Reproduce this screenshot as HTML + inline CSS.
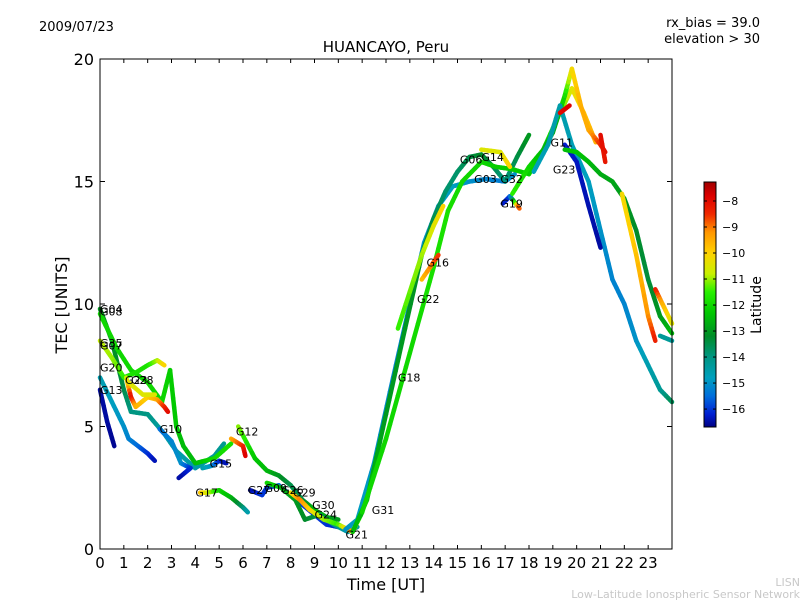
<!DOCTYPE html>
<html><head><meta charset="utf-8"><style>
body{margin:0;background:#fff;}
svg text{font-family:"DejaVu Sans","Liberation Sans",sans-serif;}
</style></head><body>
<svg id="chart" width="800" height="600" viewBox="0 0 800 600" xmlns="http://www.w3.org/2000/svg">
<rect width="800" height="600" fill="#fff"/>
<text x="39" y="31" font-size="13">2009/07/23</text>
<text x="760" y="27" font-size="13" text-anchor="end">rx_bias = 39.0</text>
<text x="760" y="43" font-size="13" text-anchor="end">elevation &gt; 30</text>
<text x="386" y="52" font-size="15" text-anchor="middle">HUANCAYO, Peru</text>
<text x="67" y="305" font-size="16" text-anchor="middle" transform="rotate(-90 67 305)">TEC [UNITS]</text>
<text x="386" y="590" font-size="16" text-anchor="middle">Time [UT]</text>
<text x="800" y="586" font-size="11" fill="#c8c8c8" text-anchor="end">LISN</text>
<text x="800" y="598" font-size="11" fill="#c8c8c8" text-anchor="end">Low-Latitude Ionospheric Sensor Network</text>
<g id="marks"></g>
<g id="axes"></g>
<g id="cbar"></g>
</svg>
<script>
const xTicks=[0,1,2,3,4,5,6,7,8,9,10,11,12,13,14,15,16,17,18,19,20,21,22,23];
const yTicks=[0,5,10,15,20];
const cbTicks=[-8,-9,-10,-11,-12,-13,-14,-15,-16];
const trackTimes=[
[0,0.5,1,1.3,2,2.7,3.2,4,4.8,5.2],
[0,0.7,1.3,2,2.6,2.94,3.2,3.5,4,4.8,5.5],
[0,0.5,1,1.5,2,2.4,2.7],
[1.1,1.3,1.5,2,2.4,2.7,2.85],
[1.2,1.8,2.3],
[0,0.5,1,1.2,1.6,2,2.3],
[0,0.3,0.6],
[2.5,3,3.4,3.8,3.3],
[5.5,6,6.1],
[5.8,6.5,7,7.5,8,8.5,9,9.5,10],
[4.3,4.7,5,5.3],
[4.2,4.5,5,5.5,6,6.2],
[6.3,6.8,7,7.5,8,8.5,9,9.5,10,10.5],
[7,7.6,8.2,8.6,9.2,9.8,10.4,10.8],
[8,8.4,8.8,9.4,10,10.6,11],
[10.3,10.8,11.5,12.3,13,13.6,14.2,14.8,15.5,16.2,17,17.4],
[10.6,11.2,12,12.8,13.5,14,14.5,15,15.5,16,16.5,17,17.5,18],
[11,12,13,14,14.6,15.2,16,16.6,17.3,18,18.6,19.2,19.8,20.3,20.8],
[12.5,13.5,14,14.4],
[13.5,14.2],
[16.9,17.2,17.6],
[16,16.8,17.2],
[17.3,18,18.6,19,19.5,19.8,20.2,20.5,21,21.2],
[18.2,18.8,19.3,19.8,20.5,21,21.5,22,22.5,23,23.5,24],
[19.5,20,20.5,21],
[19.5,20,20.5,21,21.5,22,22.5,23,23.5,24],
[21.9,22.5,23,23.3],
[19.3,19.7],
[21,21.2],
[23.3,23.6,24],
[23.5,24]
];
const trackTec=[
[9.8,8.5,6.5,5.6,5.5,4.7,4.0,3.3,3.8,4.3],
[9.6,8.2,7.3,6.8,6.0,7.3,5.0,4.2,3.5,3.7,4.3],
[8.5,7.8,7.0,7.2,7.5,7.7,7.5],
[7.0,6.2,5.8,6.2,6.1,5.8,5.6],
[6.8,6.3,6.3],
[7.0,6.0,5.0,4.5,4.2,3.9,3.6],
[6.5,5.2,4.2],
[4.9,4.4,3.5,3.3,2.9],
[4.5,4.2,3.8],
[5.0,3.7,3.2,3.0,2.6,2.0,1.6,1.3,1.2],
[3.3,3.4,3.6,3.5],
[2.3,2.3,2.4,2.1,1.7,1.5],
[2.4,2.2,2.5,2.6,2.2,1.8,1.4,1.0,0.9,0.8],
[2.7,2.5,2.0,1.2,1.4,1.0,0.7,0.9],
[2.3,2.0,1.6,1.2,1.0,0.7,1.5],
[0.8,1.2,3.5,7.0,10.0,12.5,14.0,14.8,15.0,15.1,15.0,15.3],
[0.7,2.0,5.5,9.0,12.0,13.5,14.6,15.4,16.0,16.1,15.6,15.0,16.0,16.9],
[1.5,4.5,8.0,11.5,13.8,15.0,15.8,15.6,15.5,15.3,16.3,17.6,18.8,17.8,16.6],
[9.0,12.0,13.2,14.0],
[11.0,12.0],
[14.1,14.4,13.9],
[16.3,16.2,15.6],
[14.5,15.6,16.3,17.0,18.5,19.6,18.0,17.1,16.5,16.2],
[15.4,16.5,18.1,16.5,15.0,13.0,11.0,10.0,8.5,7.5,6.5,6.0],
[16.5,15.8,14.0,12.3],
[16.3,16.2,15.8,15.3,15.0,14.3,13.0,11.0,9.5,8.8],
[14.5,12.0,9.5,8.5],
[17.8,18.1],
[16.9,15.8],
[10.6,10.0,9.2],
[8.7,8.5]
];
const trackLat=[
[-13,-13,-13.5,-14,-14,-14.5,-14.5,-14.5,-14.3,-14.2],
[-12,-12,-12,-12,-12,-12.2,-12.3,-12.5,-12.5,-12,-11.8],
[-10.8,-11,-11.5,-11.8,-11.8,-11,-10],
[-11,-8,-9.5,-10,-9.5,-8.5,-8],
[-10.5,-10.5,-10.5],
[-14.6,-14.8,-15,-15.2,-15.5,-16,-16.4],
[-16.5,-16.5,-16.6],
[-15.5,-15.2,-15,-16,-16.5],
[-9.5,-8.5,-7.8],
[-11,-12.3,-12.5,-13,-13.5,-13.5,-12.5,-12.7,-13],
[-14.5,-15,-16,-16.4],
[-9.8,-10.5,-12,-12.5,-13.8,-14.6],
[-16.5,-16,-16,-15.5,-15.8,-16,-16,-16,-16.2,-16.4],
[-12,-12.5,-13,-13.2,-13.5,-14,-14.5,-14.3],
[-10.5,-9,-10,-11,-11.5,-9,-13],
[-15,-14.8,-15,-15.2,-15.2,-15,-15,-14.8,-15,-15.2,-15.3,-15],
[-12.5,-12.5,-13,-13,-13.2,-13.5,-13.8,-13.8,-13.5,-13.2,-13.5,-14,-13.5,-13],
[-12,-12,-12,-11.8,-11.8,-12,-12,-12.2,-12.2,-12.2,-12,-11.8,-10.5,-9.8,-9.5],
[-11.5,-11,-10.5,-10],
[-9.8,-8.5],
[-16.3,-16,-8.2],
[-10.5,-10.5,-10],
[-11.5,-12,-12.5,-12.8,-12,-10.2,-9.5,-9.5,-8.5,-8],
[-14.8,-14.6,-14.5,-14.7,-14.8,-15,-15.2,-15.2,-15,-14.6,-14.3,-13.6],
[-16.2,-16.3,-16.4,-16.5],
[-12.5,-12.3,-12.5,-12.7,-12.8,-13,-13.2,-13.4,-13,-12.5],
[-10.2,-9.8,-9.2,-8.3],
[-8,-7.8],
[-8,-8.2],
[-8.2,-9.5,-10.5],
[-14.3,-14.3]
];
const labelNames=["G04","G08","G35","G07","G20","G13","G23","G28","G10","G12","G15","G17","G27","G09","G26","G29","G30","G24","G21","G31","G18","G22","G16","G06","G14","G03","G32","G19","G11","G23"];
const labelTimes=[0,0,0,0,0,0,1.05,1.3,2.5,5.7,4.6,4.0,6.2,6.9,7.6,8.1,8.9,9.0,10.3,11.4,12.5,13.3,13.7,15.1,16.0,15.7,16.8,16.8,18.9,19.0];
const labelTecs=[9.8,9.7,8.4,8.3,7.4,6.5,6.9,6.9,4.9,4.8,3.5,2.3,2.4,2.5,2.4,2.3,1.8,1.4,0.6,1.6,7.0,10.2,11.7,15.9,16.0,15.1,15.1,14.1,16.6,15.5];

const X0=100,X1=672,Y0=549,Y1=59;
const xs=t=>X0+(X1-X0)*t/24;
const ys=v=>Y0-(Y0-Y1)*v/20;
const LATMIN=-16.69,LATMAX=-7.27;
const cmapLat=[-16.69,-16.2,-15.5,-14.8,-14,-13.2,-12.3,-11.5,-10.8,-10,-9.2,-8.5,-7.8,-7.27];
const cmapRGB=[[0,0,130],[0,30,210],[0,110,220],[0,160,190],[0,150,130],[0,140,40],[0,200,0],[40,240,0],[200,240,0],[255,210,0],[255,150,0],[240,40,0],[220,0,0],[160,0,0]];
function latColor(l){
  if(l<=cmapLat[0])return `rgb(${cmapRGB[0]})`;
  for(let i=0;i<cmapLat.length-1;i++){
    if(l<=cmapLat[i+1]){const f=(l-cmapLat[i])/(cmapLat[i+1]-cmapLat[i]);
      const c=cmapRGB[i].map((v,k)=>Math.round(v+(cmapRGB[i+1][k]-v)*f));return `rgb(${c})`;}
  }
  return `rgb(${cmapRGB[cmapRGB.length-1]})`;
}
const NS="http://www.w3.org/2000/svg";
function mk(tag,attrs,parent){const e=document.createElementNS(NS,tag);for(const k in attrs)e.setAttribute(k,attrs[k]);parent.appendChild(e);return e;}
const marks=document.getElementById('marks');
trackTimes.forEach((tt,i)=>{
  const g=mk('g',{},marks);
  
  
  for(let j=0;j<tt.length-1;j++){
    const n=6;
    for(let k=0;k<n;k++){
      const a=k/n,b=(k+1)/n;
      const t1=tt[j]+(tt[j+1]-tt[j])*a,t2=tt[j]+(tt[j+1]-tt[j])*b;
      const v1=trackTec[i][j]+(trackTec[i][j+1]-trackTec[i][j])*a,v2=trackTec[i][j]+(trackTec[i][j+1]-trackTec[i][j])*b;
      const l=trackLat[i][j]+(trackLat[i][j+1]-trackLat[i][j])*(a+b)/2;
      const s=mk('line',{x1:xs(t1),y1:ys(v1),x2:xs(t2),y2:ys(v2),stroke:latColor(l),'stroke-width':4.5,'stroke-linecap':'round'},g);
      
      
    }
  }
});
labelNames.forEach((n,i)=>{
  const t=mk('text',{x:xs(labelTimes[i]),y:ys(labelTecs[i])+4,'font-size':11},marks);
  
  
  t.textContent=n;
});
const axes=document.getElementById('axes');
const fr=mk('rect',{x:X0,y:Y1,width:X1-X0,height:Y0-Y1,fill:'none',stroke:'#000','stroke-width':1},axes);


xTicks.forEach(v=>{
  const x=xs(v);
  mk('line',{x1:x,y1:Y0,x2:x,y2:Y0-4,stroke:'#000'},axes);
  mk('line',{x1:x,y1:Y1,x2:x,y2:Y1+4,stroke:'#000'},axes);
  const t=mk('text',{x:x,y:Y0+19,'font-size':15,'text-anchor':'middle'},axes);
  
  
  t.textContent=v;
});
yTicks.forEach(v=>{
  const y=ys(v);
  mk('line',{x1:X0,y1:y,x2:X0+5,y2:y,stroke:'#000'},axes);
  mk('line',{x1:X1,y1:y,x2:X1-5,y2:y,stroke:'#000'},axes);
  const t=mk('text',{x:X0-6,y:y+6,'font-size':16,'text-anchor':'end'},axes);
  
  
  t.textContent=v;
});
const cb=document.getElementById('cbar');
const CX=704,CW=12,CT=182,CB=427;
const defs=mk('defs',{},cb);
const lg=mk('linearGradient',{id:'latg',x1:0,y1:1,x2:0,y2:0},defs);
cmapLat.forEach((l,i)=>{mk('stop',{offset:(l-LATMIN)/(LATMAX-LATMIN),'stop-color':`rgb(${cmapRGB[i]})`},lg);});
const cr=mk('rect',{x:CX,y:CT,width:CW,height:CB-CT,fill:'url(#latg)',stroke:'#000','stroke-width':1},cb);


cbTicks.forEach(v=>{
  const y=CB-(CB-CT)*(v-LATMIN)/(LATMAX-LATMIN);
  mk('line',{x1:CX,y1:y,x2:CX+3,y2:y,stroke:'#000'},cb);
  mk('line',{x1:CX+CW,y1:y,x2:CX+CW-3,y2:y,stroke:'#000'},cb);
  const t=mk('text',{x:CX+CW+6,y:y+4,'font-size':11},cb);
  
  
  t.textContent='\u2212'+Math.abs(v);
});
const cl2=mk('text',{x:761,y:305,'font-size':14,'text-anchor':'middle',transform:'rotate(-90 761 305)'},cb);


cl2.textContent='Latitude';
</script>
</body></html>
